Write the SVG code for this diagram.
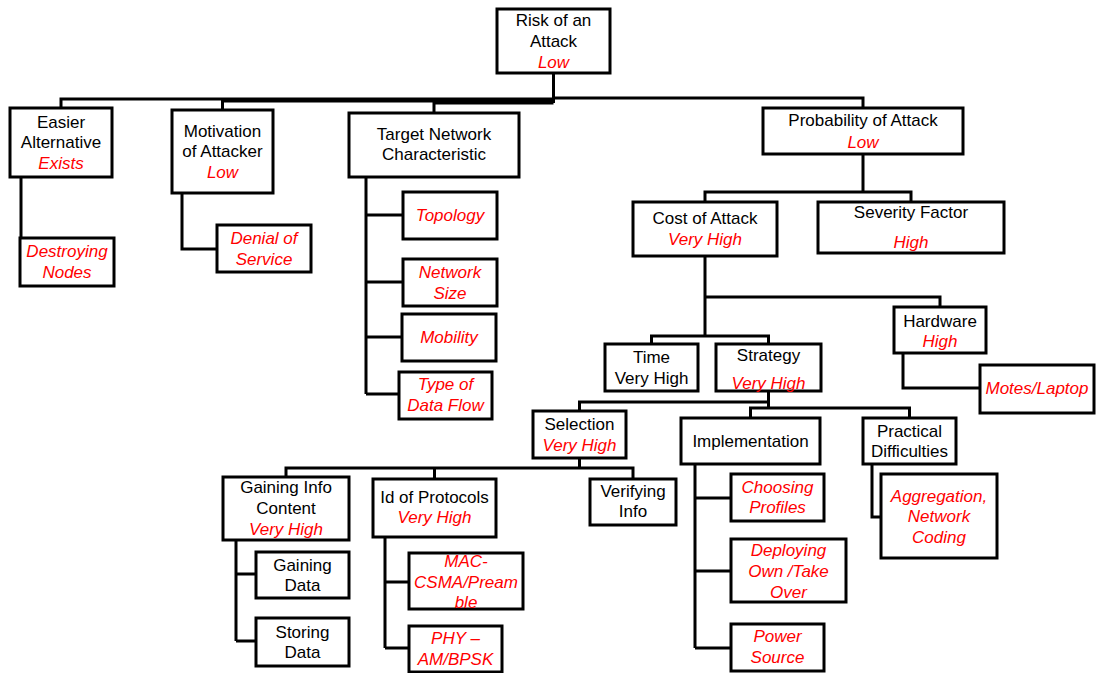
<svg xmlns="http://www.w3.org/2000/svg" width="1098" height="673" viewBox="0 0 1098 673">
<style>
.box{fill:#fff;stroke:#000;stroke-width:3}
.c{fill:none;stroke:#000;stroke-width:3;stroke-linejoin:miter}
text{font-family:"Liberation Sans",Arial,sans-serif;font-size:17px;text-anchor:middle;fill:#000}
.r{fill:#ff0000;font-style:italic}
</style>
<rect width="1098" height="673" fill="#fff"/>
<g id="connectors">
<path class="c" d="M553.5,73 V103"/>
<path class="c" d="M553.5,99 H61 V108"/>
<path class="c" d="M553.5,101 H222.5 V110"/>
<path class="c" d="M553.5,103 H434 V113"/>
<path class="c" d="M553.5,98 H863 V108"/>
<path class="c" d="M21,177 V238"/>
<path class="c" d="M182,193 V249 H217"/>
<path class="c" d="M366,177 V394 M366,215 H403 M366,282 H403 M366,337 H402 M366,394 H399"/>
<path class="c" d="M863,154 V192 H705 V202 M863,192 H911 V202"/>
<path class="c" d="M705,256 V336 M705,336 H651.5 V344 M705,336 H768.5 V344 M705,297 H940 V307"/>
<path class="c" d="M903,353 V388 H980"/>
<path class="c" d="M768.5,391 V408 M768.5,402 H579.5 V411 M768.5,408 H750.5 V418 M768.5,408 H909.5 V418"/>
<path class="c" d="M579.5,458 V468 H286 V477 M579.5,468 H434.5 V479 M579.5,468 H633 V479"/>
<path class="c" d="M236,540 V641 M236,574 H256 M236,641 H256"/>
<path class="c" d="M385,537 V648 M385,582 H409 M385,648 H409"/>
<path class="c" d="M695,464 V648 M695,498 H731 M695,571 H731 M695,648 H731"/>
<path class="c" d="M872,464 V517 H881"/>
</g>
<g id="root"><rect class="box" x="497" y="9" width="113" height="64"/><text x="553.5" y="26">Risk of an</text><text x="553.5" y="47">Attack</text><text class="r" x="553.5" y="68">Low</text></g>
<g id="easier"><rect class="box" x="10" y="108" width="102" height="69"/><text x="61" y="128">Easier</text><text x="61" y="148">Alternative</text><text class="r" x="61" y="169">Exists</text></g>
<g id="motivation"><rect class="box" x="172" y="110" width="101" height="83"/><text x="222.5" y="137">Motivation</text><text x="222.5" y="157">of Attacker</text><text class="r" x="222.5" y="178">Low</text></g>
<g id="target"><rect class="box" x="349" y="113" width="170" height="64"/><text x="434" y="140">Target Network</text><text x="434" y="160">Characteristic</text></g>
<g id="probability"><rect class="box" x="763" y="108" width="200" height="46"/><text x="863" y="126">Probability of Attack</text><text class="r" x="863" y="148">Low</text></g>
<g id="destroying"><rect class="box" x="20" y="238" width="94" height="48"/><text class="r" x="67" y="257">Destroying</text><text class="r" x="67" y="278">Nodes</text></g>
<g id="denial"><rect class="box" x="217" y="225" width="94" height="47"/><text class="r" x="264" y="244">Denial of</text><text class="r" x="264" y="265">Service</text></g>
<g id="topology"><rect class="box" x="403" y="192" width="94" height="47"/><text class="r" x="450" y="221">Topology</text></g>
<g id="netsize"><rect class="box" x="403" y="259" width="94" height="47"/><text class="r" x="450" y="278">Network</text><text class="r" x="450" y="299">Size</text></g>
<g id="mobility"><rect class="box" x="402" y="314" width="94" height="47"/><text class="r" x="449" y="343">Mobility</text></g>
<g id="dataflow"><rect class="box" x="399" y="372" width="93" height="47"/><text class="r" x="445.5" y="390">Type of</text><text class="r" x="445.5" y="411">Data Flow</text></g>
<g id="cost"><rect class="box" x="633" y="202" width="144" height="54"/><text x="705" y="224">Cost of Attack</text><text class="r" x="705" y="245">Very High</text></g>
<g id="severity"><rect class="box" x="818" y="202" width="186" height="51"/><text x="911" y="218">Severity Factor</text><text class="r" x="911" y="248">High</text></g>
<g id="hardware"><rect class="box" x="894" y="307" width="92" height="46"/><text x="940" y="327">Hardware</text><text class="r" x="940" y="347">High</text></g>
<g id="motes"><rect class="box" x="980" y="365" width="114" height="48"/><text class="r" x="1037" y="394">Motes/Laptop</text></g>
<g id="time"><rect class="box" x="605" y="344" width="93" height="47"/><text x="651.5" y="363">Time</text><text x="651.5" y="384">Very High</text></g>
<g id="strategy"><rect class="box" x="716" y="344" width="105" height="47"/><text x="768.5" y="361">Strategy</text><text class="r" x="768.5" y="389">Very High</text></g>
<g id="selection"><rect class="box" x="533" y="411" width="93" height="47"/><text x="579.5" y="430">Selection</text><text class="r" x="579.5" y="451">Very High</text></g>
<g id="implementation"><rect class="box" x="681" y="418" width="139" height="46"/><text x="750.5" y="447">Implementation</text></g>
<g id="practical"><rect class="box" x="863" y="418" width="93" height="46"/><text x="909.5" y="437">Practical</text><text x="909.5" y="457">Difficulties</text></g>
<g id="gaininginfo"><rect class="box" x="223" y="477" width="126" height="63"/><text x="286" y="493">Gaining Info</text><text x="286" y="514">Content</text><text class="r" x="286" y="535">Very High</text></g>
<g id="protocols"><rect class="box" x="373" y="479" width="123" height="58"/><text x="434.5" y="503">Id of Protocols</text><text class="r" x="434.5" y="523">Very High</text></g>
<g id="verifying"><rect class="box" x="590" y="479" width="86" height="46"/><text x="633" y="497">Verifying</text><text x="633" y="517">Info</text></g>
<g id="gainingdata"><rect class="box" x="256" y="552" width="93" height="46"/><text x="302.5" y="571">Gaining</text><text x="302.5" y="591">Data</text></g>
<g id="storingdata"><rect class="box" x="256" y="618" width="93" height="48"/><text x="302.5" y="638">Storing</text><text x="302.5" y="658">Data</text></g>
<g id="mac"><rect class="box" x="409" y="553" width="114" height="56"/><text class="r" x="466" y="567">MAC-</text><text class="r" x="466" y="588">CSMA/Pream</text><text class="r" x="466" y="608">ble</text></g>
<g id="phy"><rect class="box" x="409" y="626" width="93" height="46"/><text class="r" x="455.5" y="644">PHY –</text><text class="r" x="455.5" y="665">AM/BPSK</text></g>
<g id="choosing"><rect class="box" x="731" y="474" width="93" height="47"/><text class="r" x="777.5" y="493">Choosing</text><text class="r" x="777.5" y="513">Profiles</text></g>
<g id="deploying"><rect class="box" x="731" y="539" width="115" height="63"/><text class="r" x="788.5" y="556">Deploying</text><text class="r" x="788.5" y="577">Own /Take</text><text class="r" x="788.5" y="598">Over</text></g>
<g id="power"><rect class="box" x="731" y="624" width="93" height="47"/><text class="r" x="777.5" y="642">Power</text><text class="r" x="777.5" y="663">Source</text></g>
<g id="aggregation"><rect class="box" x="881" y="474" width="116" height="84"/><text class="r" x="939" y="502">Aggregation,</text><text class="r" x="939" y="522">Network</text><text class="r" x="939" y="543">Coding</text></g>
</svg>
